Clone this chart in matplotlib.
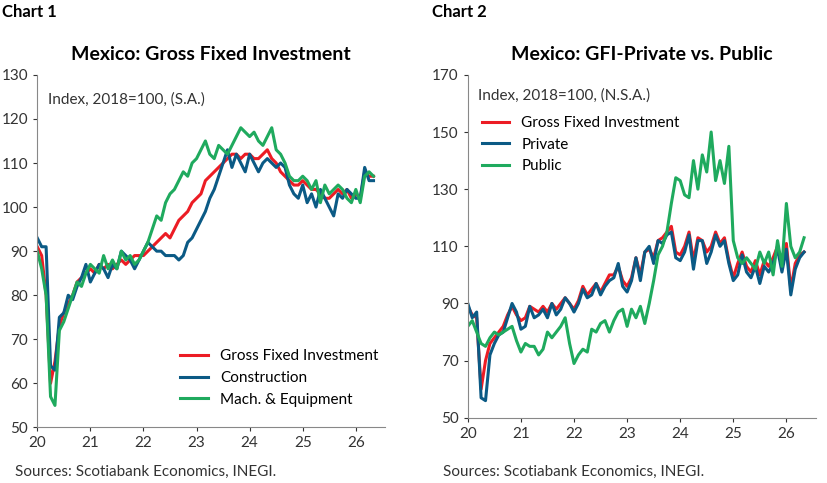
import numpy as np
import matplotlib.pyplot as plt

plt.rcParams['font.family'] = ['Lato', 'DejaVu Sans']

RED = '#ec1c24'
BLUE = '#0b5a85'
GREEN = '#1faa5e'

# Chart 1, seasonally adjusted, monthly from Jan 2020
gfi_sa = [91, 89, 80, 60, 65, 73, 76, 78, 80, 83, 84, 85,
          86, 85, 87, 86, 87, 86, 87, 88, 87, 88, 89, 89,
          89, 90, 91, 92, 93, 94, 93, 95, 97, 98, 99, 101,
          102, 103, 106, 107, 108, 109, 110, 111, 112, 112, 111, 112,
          112, 111, 111, 112, 113, 111, 110, 108, 107, 106, 105, 105,
          106, 105, 104, 104, 103, 102, 102, 103, 104, 103, 104, 102,
          103, 102, 108, 107, 107]
constr_sa = [93, 91, 91, 64, 63, 75, 76, 80, 79, 82, 84, 87,
             83, 85, 87, 86, 84, 87, 86, 90, 89, 88, 86, 88,
             90, 92, 91, 90, 90, 89, 89, 89, 88, 89, 92, 93,
             95, 97, 99, 102, 104, 107, 110, 113, 109, 112, 110, 108,
             112, 110, 108, 110, 111, 110, 109, 110, 109, 105, 103, 102,
             105, 101, 103, 100, 104, 102, 100, 98, 103, 102, 104, 103,
             102, 102, 109, 106, 106]
mach_sa = [90, 86, 80, 57, 55, 72, 74, 77, 80, 83, 82, 85,
           87, 86, 85, 89, 86, 88, 86, 90, 88, 89, 87, 88,
           90, 92, 95, 98, 97, 101, 103, 104, 106, 108, 107, 110,
           111, 113, 115, 112, 111, 114, 113, 112, 114, 116, 118, 117,
           116, 117, 115, 114, 116, 118, 113, 112, 110, 107, 106, 106,
           107, 106, 104, 106, 101, 105, 103, 104, 105, 104, 102, 101,
           104, 101, 107, 108, 107]

# Chart 2, not seasonally adjusted
gfi_nsa = [89, 86, 85, 60, 70, 76, 78, 80, 82, 86, 89, 86,
           84, 85, 89, 88, 87, 89, 87, 90, 88, 90, 92, 90,
           88, 91, 96, 93, 95, 97, 94, 97, 100, 100, 103, 98,
           96, 99, 106, 100, 108, 109, 106, 112, 113, 115, 117, 108,
           107, 110, 115, 105, 113, 112, 108, 110, 115, 111, 113, 105,
           99, 104, 108, 103, 101, 105, 100, 105, 103, 106, 110, 103,
           111, 95, 104, 107, 108]
private_nsa = [90, 85, 87, 57, 56, 72, 76, 79, 80, 85, 90, 87,
               81, 82, 89, 85, 86, 88, 85, 90, 86, 88, 92, 90,
               87, 90, 95, 92, 93, 97, 93, 96, 98, 99, 104, 96,
               94, 98, 106, 98, 108, 110, 104, 112, 111, 114, 115, 106,
               105, 108, 114, 102, 112, 112, 104, 108, 114, 110, 112, 104,
               98, 100, 107, 101, 99, 103, 97, 103, 101, 104, 109, 101,
               109, 93, 102, 106, 108]
public_nsa = [82, 84, 80, 76, 75, 78, 80, 79, 80, 81, 82, 77,
              73, 76, 75, 75, 72, 74, 80, 78, 80, 82, 85, 76,
              69, 72, 74, 73, 81, 80, 83, 84, 80, 84, 87, 88,
              82, 88, 85, 89, 83, 90, 98, 107, 110, 115, 125, 134,
              133, 128, 127, 140, 130, 142, 136, 150, 133, 140, 132, 145,
              112, 106, 104, 106, 104, 102, 108, 104, 108, 100, 112, 103,
              125, 110, 106, 108, 113]

x = 20 + np.arange(len(gfi_sa)) / 12

fig = plt.figure(figsize=(8.28, 4.83), dpi=100)
ax1 = fig.add_axes([0.045, 0.115, 0.42, 0.73])
ax2 = fig.add_axes([0.565, 0.135, 0.42, 0.71])


def style(ax, ylim, yticks):
    ax.set_xlim(20, 26.55)
    ax.set_ylim(*ylim)
    ax.set_yticks(yticks)
    ax.set_xticks(range(20, 27))
    ax.set_xticklabels([str(v) for v in range(20, 27)])
    for s in ['top', 'right']:
        ax.spines[s].set_visible(False)
    for s in ['left', 'bottom']:
        ax.spines[s].set_color('#888888')
    ax.tick_params(labelsize=11, length=3, colors='#333333')


ax1.plot(x, gfi_sa, color=RED, lw=2.2, label='Gross Fixed Investment')
ax1.plot(x, constr_sa, color=BLUE, lw=2.2, label='Construction')
ax1.plot(x, mach_sa, color=GREEN, lw=2.2, label='Mach. & Equipment')
style(ax1, (50, 130), range(50, 131, 10))
ax1.legend(loc='lower right', frameon=False, fontsize=11, handlelength=1.8,
           bbox_to_anchor=(1.02, 0.02))
ax1.text(0.03, 0.95, 'Index, 2018=100, (S.A.)', transform=ax1.transAxes,
         fontsize=11, va='top', color='#333333')

ax2.plot(x, gfi_nsa, color=RED, lw=2.2, label='Gross Fixed Investment')
ax2.plot(x, private_nsa, color=BLUE, lw=2.2, label='Private')
ax2.plot(x, public_nsa, color=GREEN, lw=2.2, label='Public')
style(ax2, (50, 170), range(50, 171, 20))
ax2.legend(loc='upper left', frameon=False, fontsize=11, handlelength=1.8,
           bbox_to_anchor=(0.0, 0.92))
ax2.text(0.03, 0.96, 'Index, 2018=100, (N.S.A.)', transform=ax2.transAxes,
         fontsize=11, va='top', color='#333333')

fig.text(0.003, 0.965, 'Chart 1', fontsize=12, fontweight='bold')
fig.text(0.522, 0.965, 'Chart 2', fontsize=12, fontweight='bold')
fig.text(0.255, 0.875, 'Mexico: Gross Fixed Investment', fontsize=14,
         fontweight='bold', ha='center')
fig.text(0.775, 0.875, 'Mexico: GFI-Private vs. Public', fontsize=14,
         fontweight='bold', ha='center')
fig.text(0.018, 0.015, 'Sources: Scotiabank Economics, INEGI.', fontsize=11,
         color='#333333')
fig.text(0.535, 0.015, 'Sources: Scotiabank Economics, INEGI.', fontsize=11,
         color='#333333')

fig.savefig('out.png', dpi=100)
